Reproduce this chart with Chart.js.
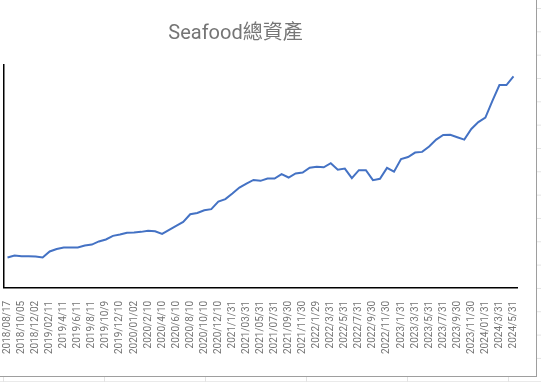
<!DOCTYPE html>
<html>
<head>
<meta charset="utf-8">
<script src="https://cdn.jsdelivr.net/npm/chart.js@4.4.1/dist/chart.umd.min.js"></script>
<style>
  body {
    margin: 0;
    width: 541px;
    height: 382px;
    background-color: #fff;
    background-image:
      linear-gradient(to bottom, #e3e3e3 1px, transparent 1px),
      linear-gradient(to right, #e3e3e3 1px, transparent 1px);
    background-size: 100% 23.33px, 101px 100%;
    background-position: 0 8px, 3px 0;
    overflow: hidden;
  }
  #box {
    position: absolute;
    left: 0;
    top: 0;
    width: 536px;
    height: 376px;
    background: #fff;
    border-right: 1px solid #9e9e9e;
    border-bottom: 1px solid #9e9e9e;
  }
</style>
</head>
<body>
<div id="box"><canvas id="seafoodChart" width="536" height="376"></canvas></div>
<script>
// dates (only every other one is shown on the axis)
const dates = [
    "2018/08/17", "2018/09/14", "2018/10/05", "2018/11/05", "2018/12/02", "2019/01/07",
    "2019/02/11", "2019/03/11", "2019/4/11", "2019/5/11", "2019/6/11", "2019/7/11",
    "2019/8/11", "2019/9/11", "2019/10/9", "2019/11/9", "2019/12/10", "2019/12/20",
    "2020/01/02", "2020/01/20", "2020/2/10", "2020/3/10", "2020/4/10", "2020/5/10",
    "2020/6/10", "2020/7/10", "2020/8/10", "2020/9/10", "2020/10/10", "2020/11/10",
    "2020/12/10", "2020/12/31", "2021/1/31", "2021/02/28", "2021/03/31", "2021/04/30",
    "2021/05/31", "2021/06/30", "2021/07/31", "2021/08/31", "2021/09/30", "2021/10/31",
    "2021/11/30", "2021/12/31", "2022/1/29", "2022/2/28", "2022/3/31", "2022/4/30",
    "2022/5/31", "2022/6/30", "2022/7/31", "2022/8/31", "2022/9/30", "2022/10/31",
    "2022/11/30", "2022/12/31", "2023/1/31", "2023/2/28", "2023/3/31", "2023/4/30",
    "2023/5/31", "2023/6/30", "2023/7/31", "2023/8/31", "2023/9/30", "2023/10/31",
    "2023/11/30", "2023/12/31", "2024/01/31", "2024/2/29", "2024/3/31", "2024/4/30",
    "2024/5/31"
];

// total assets (relative units)
const totalAssets = [
    13.6, 14.5, 14.2, 14.2, 14.0, 13.6, 16.3, 17.4, 18.1, 18.1,
    18.1, 19.0, 19.4, 20.8, 21.7, 23.3, 23.9, 24.7, 24.8, 25.1,
    25.6, 25.4, 24.2, 26.0, 27.8, 29.6, 33.0, 33.6, 34.8, 35.3,
    38.7, 39.8, 42.3, 45.0, 46.8, 48.4, 48.0, 49.0, 49.0, 51.0,
    49.5, 51.3, 51.7, 53.9, 54.3, 54.1, 55.9, 53.0, 53.5, 49.2,
    52.8, 52.8, 48.3, 48.9, 53.8, 52.1, 57.8, 58.7, 60.7, 61.0,
    63.4, 66.5, 68.6, 68.7, 67.6, 66.5, 71.3, 74.4, 76.4, 83.9,
    91.0, 91.0, 94.9
];

const chartTitle = "Seafood總資產";

// title drawn off-centre like the original
const titlePlugin = {
    id: "sheetTitle",
    afterDraw(chart) {
        const ctx = chart.ctx;
        ctx.save();
        ctx.font = '20px Roboto, "Noto Sans CJK TC", sans-serif';
        ctx.fillStyle = "#757575";
        ctx.textAlign = "center";
        ctx.textBaseline = "alphabetic";
        ctx.fillText(chartTitle, 235.5, 38.5);
        ctx.restore();
    }
};

const ctx = document.getElementById("seafoodChart").getContext("2d");
new Chart(ctx, {
    type: "line",
    data: {
        labels: dates,
        datasets: [
            {
                label: chartTitle,
                data: totalAssets,
                borderColor: "#4472C4",
                backgroundColor: "#4472C4",
                borderWidth: 2,
                pointRadius: 0,
                tension: 0,
            },
        ],
    },
    plugins: [titlePlugin],
    options: {
        responsive: false,
        animation: false,
        layout: {
            padding: { top: 65, left: 3, right: 19, bottom: 17 },
        },
        plugins: {
            legend: { display: false },
            tooltip: { enabled: false },
            title: { display: false },
        },
        scales: {
            x: {
                offset: true,
                grid: { display: false },
                border: { display: true, color: "#000", width: 1.5 },
                ticks: {
                    autoSkip: false,
                    maxRotation: 90,
                    minRotation: 90,
                    padding: 5,
                    color: "#757575",
                    font: { family: "Roboto", size: 10 },
                    callback: function (value, index) {
                        return index % 2 === 0 ? dates[index] : "";
                    },
                },
            },
            y: {
                min: 0,
                max: 100,
                afterFit: function (scale) {
                    scale.width = 1;
                },
                grid: { display: false },
                border: { display: true, color: "#000", width: 1.5 },
                ticks: { display: false, padding: 0 },
            },
        },
    },
});
</script>
</body>
</html>
